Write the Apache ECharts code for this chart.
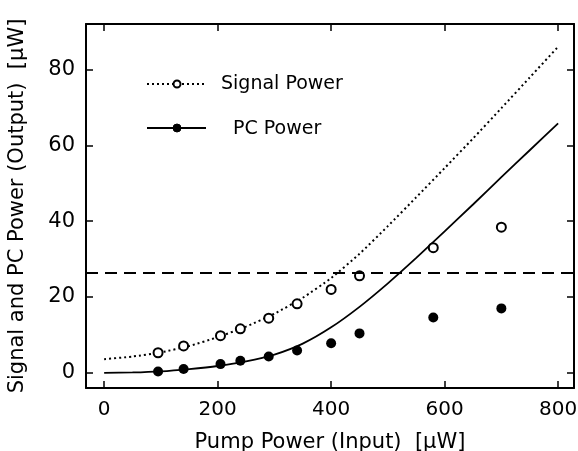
<!DOCTYPE html>
<html>
<head>
<meta charset="utf-8">
<script src="https://cdn.jsdelivr.net/npm/echarts@6/dist/echarts.min.js"></script>
<style>
  html, body { margin: 0; padding: 0; background: #fff; }
  #main { width: 578px; height: 451px; }
</style>
</head>
<body>
<div id="main"></div>
<script>
// measured points (pump power in uW)
var pumpPts = [95, 140, 205, 240, 290, 340, 400, 450, 580, 700];
var signalPts = [5.3, 7.1, 9.8, 11.6, 14.4, 18.2, 22.0, 25.6, 33.0, 38.4];
var pcPts = [0.35, 1.0, 2.3, 3.2, 4.3, 5.9, 7.8, 10.4, 14.6, 17.0];

// theory curves
var curveX = [0, 50, 100, 150, 200, 250, 300, 350, 400, 450, 500, 550, 600, 650, 700, 750, 800];
var signalCurve = [3.6, 4.3, 5.4, 7.1, 9.4, 12.2, 15.6, 19.8, 25.0, 31.4, 38.7, 46.3, 54.0, 61.8, 69.8, 77.9, 86.0];
var pcCurve = [0, 0.1, 0.4, 1.0, 1.8, 3.0, 4.8, 7.7, 12.0, 17.4, 23.6, 30.3, 37.3, 44.4, 51.6, 58.7, 65.8];

var threshold = 26.3;

var xTicks = [0, 200, 400, 600, 800];
var yTicks = [0, 20, 40, 60, 80];

function zip(xs, ys) {
  return xs.map(function (x, i) { return [x, ys[i]]; });
}

var chart = echarts.init(document.getElementById('main'));
var font = 'DejaVu Sans';

var tick = { show: true, inside: true, length: 7, lineStyle: { color: '#000', width: 1.5 } };
var axLine = { show: true, onZero: false, lineStyle: { color: '#000', width: 2 } };

var option = {
  animation: false,
  backgroundColor: '#fff',
  grid: { left: 86, right: 4, top: 24, bottom: 63, outerBoundsMode: 'none', containLabel: false },
  xAxis: [{
    type: 'value', min: -32, max: 828, position: 'bottom',
    name: 'Pump Power (Input)  [\u03bcW]', nameLocation: 'middle', nameGap: 44,
    nameTextStyle: { fontFamily: font, fontSize: 21, color: '#000' },
    axisLine: axLine,
    axisTick: Object.assign({ customValues: xTicks }, tick),
    axisLabel: { customValues: xTicks, fontFamily: font, fontSize: 20, color: '#000', margin: 12 },
    splitLine: { show: false }
  }, {
    type: 'value', min: -32, max: 828, position: 'top',
    axisLine: axLine,
    axisTick: Object.assign({ customValues: xTicks }, tick),
    axisLabel: { show: false },
    splitLine: { show: false }
  }],
  yAxis: [{
    type: 'value', min: -4, max: 92, position: 'left',
    name: 'Signal and PC Power (Output)  [\u03bcW]', nameLocation: 'middle', nameGap: 58,
    nameTextStyle: { fontFamily: font, fontSize: 21, color: '#000' },
    axisLine: axLine,
    axisTick: Object.assign({ customValues: yTicks }, tick),
    axisLabel: { customValues: yTicks, fontFamily: font, fontSize: 21, color: '#000', margin: 11 },
    splitLine: { show: false }
  }, {
    type: 'value', min: -4, max: 92, position: 'right',
    axisLine: axLine,
    axisTick: Object.assign({ customValues: yTicks }, tick),
    axisLabel: { show: false },
    splitLine: { show: false }
  }],
  graphic: [
    { type: 'line', shape: { x1: 147, y1: 84, x2: 204, y2: 84 },
      style: { stroke: '#000', lineWidth: 2, lineDash: [2, 3] } },
    { type: 'circle', shape: { cx: 177, cy: 84, r: 3.5 },
      style: { fill: '#fff', stroke: '#000', lineWidth: 2 } },
    { type: 'text', left: 221, top: 75,
      style: { text: 'Signal Power', fontFamily: font, fontSize: 19, fill: '#000' } },
    { type: 'line', shape: { x1: 147, y1: 128, x2: 206, y2: 128 },
      style: { stroke: '#000', lineWidth: 1.8 } },
    { type: 'circle', shape: { cx: 177, cy: 128, r: 4 },
      style: { fill: '#000', stroke: '#000', lineWidth: 1 } },
    { type: 'text', left: 233, top: 120,
      style: { text: 'PC Power', fontFamily: font, fontSize: 19, fill: '#000' } }
  ],
  series: [{
    name: 'Signal theory', type: 'line', smooth: 0.2, showSymbol: false,
    data: zip(curveX, signalCurve),
    lineStyle: { color: '#000', width: 2, type: [2, 3] },
    markLine: {
      silent: true, symbol: 'none', label: { show: false },
      lineStyle: { color: '#000', width: 1.8, type: [12, 7] },
      data: [{ yAxis: threshold }]
    },
    z: 2
  }, {
    name: 'PC theory', type: 'line', smooth: 0.2, showSymbol: false,
    data: zip(curveX, pcCurve),
    lineStyle: { color: '#000', width: 1.8 },
    z: 2
  }, {
    name: 'Signal Power', type: 'scatter', symbol: 'circle', symbolSize: 9,
    data: zip(pumpPts, signalPts),
    itemStyle: { color: '#fff', borderColor: '#000', borderWidth: 2, opacity: 1 },
    z: 3
  }, {
    name: 'PC Power', type: 'scatter', symbol: 'circle', symbolSize: 10,
    data: zip(pumpPts, pcPts),
    itemStyle: { color: '#000', opacity: 1 },
    z: 3
  }]
};

chart.setOption(option);
</script>
</body>
</html>
